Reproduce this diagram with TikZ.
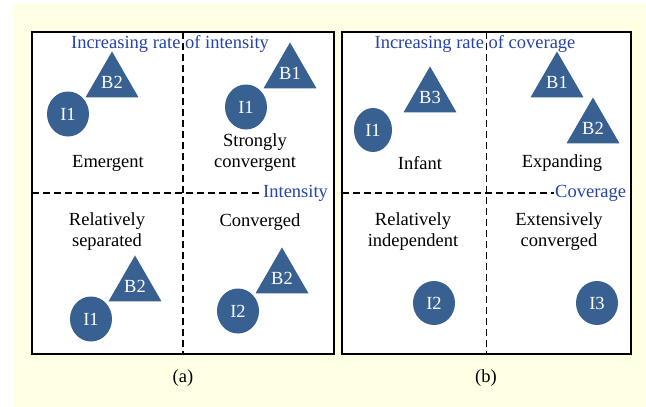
\documentclass[tikz,border=0pt]{standalone}
\usepackage{fontspec}
\setmainfont{Liberation Serif}
\usepackage{xcolor}
\definecolor{cream}{RGB}{255,255,227}
\definecolor{shapeblue}{RGB}{56,96,145}
\definecolor{axisblue}{RGB}{38,68,170}
\usetikzlibrary{shapes.geometric}
\usetikzlibrary{positioning}

\tikzset{
	txt/.style={font=\fontsize{18.5}{21}\selectfont, align=center, inner sep=1pt},
	axislabel/.style={txt, text=axisblue},
	tri/.style={txt, regular polygon, regular polygon sides=3, fill=shapeblue, inner sep=0pt, minimum size=60pt, text=white},
	ent/.style={txt, ellipse, fill=shapeblue, inner sep=0pt, minimum width=42pt, minimum height=45pt, text=white},
	panel/.style={draw, fill=white, line width=1.9pt, inner sep=0pt, outer sep=0pt},
	quadline/.style={dash pattern=on 7pt off 4pt, line width=1.8pt}
}

\begin{document}
\begin{tikzpicture}[x=1pt, y=-1pt]
			\fill[white] (0,0) rectangle (646,407);
\fill[cream] (13,4) rectangle (646,407);

% panel (a)
\node(pa)[panel, minimum width=302pt, minimum height=322pt] at (183,193) {};
\node(intA)[axislabel, anchor=west] at (262,193) {Intensity};
\draw[quadline] (pa.north) -- (pa.south);
\draw[quadline] (pa.west) -- (intA.west);
\node(titleA)[axislabel] at (170,44) {Increasing rate of intensity};

\node(aB2)[tri] at (112,82) {B2};
\node(aI1)[ent] at (68,114) {I1};
\node(aEm)[txt] at (108,163) {Emergent};

\node(aB1)[tri] at (290,73) {B1};
\node(aI1b)[ent] at (246,107) {I1};
\node(aSc)[txt] at (255,153) {Strongly\\convergent};

\node(aRs)[txt] at (107,232) {Relatively\\separated};
\node(aB2c)[tri] at (135,286) {B2};
\node(aI1c)[ent] at (91,319) {I1};

\node(aCo)[txt] at (260,222) {Converged};
\node(aB2d)[tri] at (282,278) {B2};
\node(aI2)[ent] at (238,311) {I2};

\node(capA)[txt] at (183,378) {(a)};

% panel (b)
\node(pb)[panel, minimum width=289pt, minimum height=322pt] at (486.5,193) {};
\node(covB)[axislabel, anchor=west] at (554,193) {Coverage};
\draw[quadline] (pb.north) -- (pb.south);
\draw[quadline] (pb.west) -- (covB.west);
\node(titleB)[axislabel] at (475,44) {Increasing rate of coverage};

\node(bB3)[tri] at (430,97) {B3};
\node(bI1)[ent, minimum width=38pt, minimum height=44pt] at (373,130) {I1};
\node(bIn)[txt] at (420,163) {Infant};

\node(bB1)[tri] at (557,82) {B1};
\node(bB2)[tri] at (593,128) {B2};
\node(bEx)[txt] at (562,163) {Expanding};

\node(bRi)[txt] at (413,232) {Relatively\\independent};
\node(bI2)[ent, minimum height=44pt] at (434,303) {I2};

\node(bEc)[txt] at (559,232) {Extensively\\converged};
\node(bI3)[ent, minimum height=44pt] at (597,303) {I3};

\node(capB)[txt] at (486,378) {(b)};
		\end{tikzpicture}
\end{document}
